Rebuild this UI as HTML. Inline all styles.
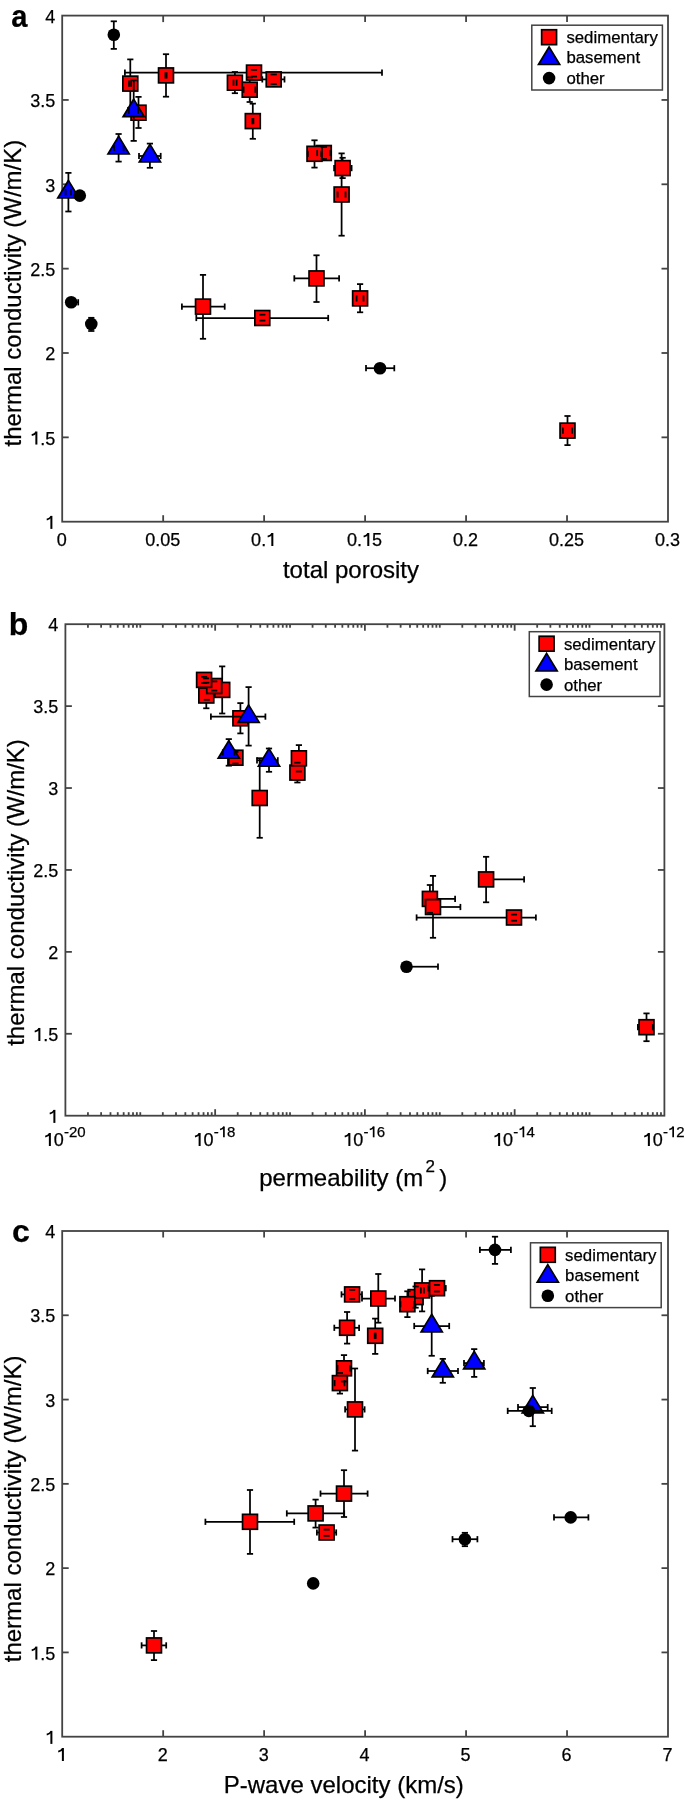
<!DOCTYPE html>
<html><head><meta charset="utf-8"><style>
html,body{margin:0;padding:0;background:#fff;}
svg{display:block;will-change:transform;}
text{font-family:"Liberation Sans",sans-serif;fill:#000;stroke:#000;stroke-width:0.25px;}
</style></head><body>
<svg width="685" height="1801" viewBox="0 0 685 1801">
<rect width="685" height="1801" fill="#fff"/>
<rect x="62.2" y="15.6" width="605.80" height="506.10" fill="none" stroke="#434343" stroke-width="1.8"/>
<line x1="163.17" y1="521.70" x2="163.17" y2="515.20" stroke="#434343" stroke-width="1.8"/>
<line x1="163.17" y1="15.60" x2="163.17" y2="22.10" stroke="#434343" stroke-width="1.8"/>
<line x1="264.13" y1="521.70" x2="264.13" y2="515.20" stroke="#434343" stroke-width="1.8"/>
<line x1="264.13" y1="15.60" x2="264.13" y2="22.10" stroke="#434343" stroke-width="1.8"/>
<line x1="365.10" y1="521.70" x2="365.10" y2="515.20" stroke="#434343" stroke-width="1.8"/>
<line x1="365.10" y1="15.60" x2="365.10" y2="22.10" stroke="#434343" stroke-width="1.8"/>
<line x1="466.07" y1="521.70" x2="466.07" y2="515.20" stroke="#434343" stroke-width="1.8"/>
<line x1="466.07" y1="15.60" x2="466.07" y2="22.10" stroke="#434343" stroke-width="1.8"/>
<line x1="567.03" y1="521.70" x2="567.03" y2="515.20" stroke="#434343" stroke-width="1.8"/>
<line x1="567.03" y1="15.60" x2="567.03" y2="22.10" stroke="#434343" stroke-width="1.8"/>
<line x1="62.20" y1="437.35" x2="68.70" y2="437.35" stroke="#434343" stroke-width="1.8"/>
<line x1="668.00" y1="437.35" x2="661.50" y2="437.35" stroke="#434343" stroke-width="1.8"/>
<line x1="62.20" y1="353.00" x2="68.70" y2="353.00" stroke="#434343" stroke-width="1.8"/>
<line x1="668.00" y1="353.00" x2="661.50" y2="353.00" stroke="#434343" stroke-width="1.8"/>
<line x1="62.20" y1="268.65" x2="68.70" y2="268.65" stroke="#434343" stroke-width="1.8"/>
<line x1="668.00" y1="268.65" x2="661.50" y2="268.65" stroke="#434343" stroke-width="1.8"/>
<line x1="62.20" y1="184.30" x2="68.70" y2="184.30" stroke="#434343" stroke-width="1.8"/>
<line x1="668.00" y1="184.30" x2="661.50" y2="184.30" stroke="#434343" stroke-width="1.8"/>
<line x1="62.20" y1="99.95" x2="68.70" y2="99.95" stroke="#434343" stroke-width="1.8"/>
<line x1="668.00" y1="99.95" x2="661.50" y2="99.95" stroke="#434343" stroke-width="1.8"/>
<text x="56.70" y="546.00" font-size="18" text-anchor="start" font-weight="normal" >0</text>
<text x="145.15" y="546.00" font-size="18" text-anchor="start" font-weight="normal" >0</text>
<text x="155.16" y="546.00" font-size="18" text-anchor="start" font-weight="normal" >.</text>
<text x="160.16" y="546.00" font-size="18" text-anchor="start" font-weight="normal" >0</text>
<text x="170.17" y="546.00" font-size="18" text-anchor="start" font-weight="normal" >5</text>
<text x="251.12" y="546.00" font-size="18" text-anchor="start" font-weight="normal" >0</text>
<text x="261.13" y="546.00" font-size="18" text-anchor="start" font-weight="normal" >.</text>
<path d="M271.32,532.97 L273.34,532.97 L273.34,546.00 L271.32,546.00 Z" fill="#000"/>
<path d="M272.35,533.51 C271.36,535.20 269.74,536.19 267.67,536.64" fill="none" stroke="#000" stroke-width="1.80"/>
<text x="347.09" y="546.00" font-size="18" text-anchor="start" font-weight="normal" >0</text>
<text x="357.09" y="546.00" font-size="18" text-anchor="start" font-weight="normal" >.</text>
<path d="M367.28,532.97 L369.30,532.97 L369.30,546.00 L367.28,546.00 Z" fill="#000"/>
<path d="M368.31,533.51 C367.32,535.20 365.70,536.19 363.63,536.64" fill="none" stroke="#000" stroke-width="1.80"/>
<text x="372.11" y="546.00" font-size="18" text-anchor="start" font-weight="normal" >5</text>
<text x="453.06" y="546.00" font-size="18" text-anchor="start" font-weight="normal" >0</text>
<text x="463.06" y="546.00" font-size="18" text-anchor="start" font-weight="normal" >.</text>
<text x="468.07" y="546.00" font-size="18" text-anchor="start" font-weight="normal" >2</text>
<text x="549.02" y="546.00" font-size="18" text-anchor="start" font-weight="normal" >0</text>
<text x="559.03" y="546.00" font-size="18" text-anchor="start" font-weight="normal" >.</text>
<text x="564.03" y="546.00" font-size="18" text-anchor="start" font-weight="normal" >2</text>
<text x="574.04" y="546.00" font-size="18" text-anchor="start" font-weight="normal" >5</text>
<text x="654.99" y="546.00" font-size="18" text-anchor="start" font-weight="normal" >0</text>
<text x="665.00" y="546.00" font-size="18" text-anchor="start" font-weight="normal" >.</text>
<text x="670.00" y="546.00" font-size="18" text-anchor="start" font-weight="normal" >3</text>
<path d="M50.38,515.87 L52.39,515.87 L52.39,528.90 L50.38,528.90 Z" fill="#000"/>
<path d="M51.40,516.41 C50.41,518.10 48.79,519.09 46.72,519.54" fill="none" stroke="#000" stroke-width="1.80"/>
<path d="M35.36,431.52 L37.38,431.52 L37.38,444.55 L35.36,444.55 Z" fill="#000"/>
<path d="M36.39,432.06 C35.40,433.75 33.78,434.74 31.71,435.19" fill="none" stroke="#000" stroke-width="1.80"/>
<text x="40.19" y="444.55" font-size="18" text-anchor="start" font-weight="normal" >.</text>
<text x="45.19" y="444.55" font-size="18" text-anchor="start" font-weight="normal" >5</text>
<text x="45.19" y="360.20" font-size="18" text-anchor="start" font-weight="normal" >2</text>
<text x="30.18" y="275.85" font-size="18" text-anchor="start" font-weight="normal" >2</text>
<text x="40.19" y="275.85" font-size="18" text-anchor="start" font-weight="normal" >.</text>
<text x="45.19" y="275.85" font-size="18" text-anchor="start" font-weight="normal" >5</text>
<text x="45.19" y="191.50" font-size="18" text-anchor="start" font-weight="normal" >3</text>
<text x="30.18" y="107.15" font-size="18" text-anchor="start" font-weight="normal" >3</text>
<text x="40.19" y="107.15" font-size="18" text-anchor="start" font-weight="normal" >.</text>
<text x="45.19" y="107.15" font-size="18" text-anchor="start" font-weight="normal" >5</text>
<text x="45.19" y="22.80" font-size="18" text-anchor="start" font-weight="normal" >4</text>
<text x="351.00" y="577.60" font-size="24" text-anchor="middle" font-weight="normal" >total porosity</text>
<text x="0.00" y="0.00" font-size="24" text-anchor="middle" font-weight="normal" transform="translate(20.7,293.1) rotate(-90)">thermal conductivity (W/m/K)</text>
<text x="0.00" y="0.00" font-size="32" text-anchor="start" font-weight="bold" transform="translate(11.3,27.2) scale(0.91,1)">a</text>
<line x1="130.30" y1="59.40" x2="130.30" y2="107.80" stroke="#000" stroke-width="1.75"/>
<line x1="129.00" y1="83.60" x2="131.10" y2="83.60" stroke="#000" stroke-width="1.75"/>
<line x1="166.00" y1="54.20" x2="166.00" y2="96.70" stroke="#000" stroke-width="1.75"/>
<line x1="165.40" y1="75.40" x2="166.60" y2="75.40" stroke="#000" stroke-width="1.75"/>
<line x1="138.50" y1="96.90" x2="138.50" y2="128.00" stroke="#000" stroke-width="1.75"/>
<line x1="234.90" y1="72.00" x2="234.90" y2="93.20" stroke="#000" stroke-width="1.75"/>
<line x1="233.50" y1="82.70" x2="236.60" y2="82.70" stroke="#000" stroke-width="1.75"/>
<line x1="254.00" y1="69.90" x2="254.00" y2="76.60" stroke="#000" stroke-width="1.75"/>
<line x1="124.90" y1="72.60" x2="382.00" y2="72.60" stroke="#000" stroke-width="1.75"/>
<line x1="249.70" y1="77.40" x2="249.70" y2="102.00" stroke="#000" stroke-width="1.75"/>
<line x1="243.60" y1="89.70" x2="255.30" y2="89.70" stroke="#000" stroke-width="1.75"/>
<line x1="273.70" y1="74.50" x2="273.70" y2="84.10" stroke="#000" stroke-width="1.75"/>
<line x1="262.30" y1="79.40" x2="284.50" y2="79.40" stroke="#000" stroke-width="1.75"/>
<line x1="252.80" y1="103.70" x2="252.80" y2="138.80" stroke="#000" stroke-width="1.75"/>
<line x1="252.20" y1="121.10" x2="253.40" y2="121.10" stroke="#000" stroke-width="1.75"/>
<line x1="323.80" y1="147.00" x2="323.80" y2="159.00" stroke="#000" stroke-width="1.75"/>
<line x1="317.20" y1="153.00" x2="330.40" y2="153.00" stroke="#000" stroke-width="1.75"/>
<line x1="314.50" y1="140.30" x2="314.50" y2="167.60" stroke="#000" stroke-width="1.75"/>
<line x1="307.80" y1="153.80" x2="321.20" y2="153.80" stroke="#000" stroke-width="1.75"/>
<line x1="342.60" y1="157.80" x2="342.60" y2="178.10" stroke="#000" stroke-width="1.75"/>
<line x1="334.10" y1="168.10" x2="351.60" y2="168.10" stroke="#000" stroke-width="1.75"/>
<line x1="341.60" y1="153.40" x2="341.60" y2="235.70" stroke="#000" stroke-width="1.75"/>
<line x1="337.60" y1="194.50" x2="345.50" y2="194.50" stroke="#000" stroke-width="1.75"/>
<line x1="316.50" y1="255.30" x2="316.50" y2="302.00" stroke="#000" stroke-width="1.75"/>
<line x1="294.30" y1="278.40" x2="339.10" y2="278.40" stroke="#000" stroke-width="1.75"/>
<line x1="360.10" y1="284.10" x2="360.10" y2="312.30" stroke="#000" stroke-width="1.75"/>
<line x1="356.60" y1="298.40" x2="363.50" y2="298.40" stroke="#000" stroke-width="1.75"/>
<line x1="203.00" y1="274.90" x2="203.00" y2="338.80" stroke="#000" stroke-width="1.75"/>
<line x1="181.90" y1="306.60" x2="224.70" y2="306.60" stroke="#000" stroke-width="1.75"/>
<line x1="262.30" y1="314.70" x2="262.30" y2="320.60" stroke="#000" stroke-width="1.75"/>
<line x1="196.30" y1="318.00" x2="328.20" y2="318.00" stroke="#000" stroke-width="1.75"/>
<line x1="567.50" y1="416.00" x2="567.50" y2="445.10" stroke="#000" stroke-width="1.75"/>
<line x1="563.00" y1="430.60" x2="572.20" y2="430.60" stroke="#000" stroke-width="1.75"/>
<rect x="122.85" y="76.15" width="14.90" height="14.90" fill="#ff0000" stroke="#000" stroke-width="1.7"/>
<rect x="158.55" y="67.95" width="14.90" height="14.90" fill="#ff0000" stroke="#000" stroke-width="1.7"/>
<rect x="131.05" y="105.25" width="14.90" height="14.90" fill="#ff0000" stroke="#000" stroke-width="1.7"/>
<rect x="227.45" y="75.25" width="14.90" height="14.90" fill="#ff0000" stroke="#000" stroke-width="1.7"/>
<rect x="246.55" y="65.15" width="14.90" height="14.90" fill="#ff0000" stroke="#000" stroke-width="1.7"/>
<rect x="242.25" y="82.25" width="14.90" height="14.90" fill="#ff0000" stroke="#000" stroke-width="1.7"/>
<rect x="266.25" y="71.95" width="14.90" height="14.90" fill="#ff0000" stroke="#000" stroke-width="1.7"/>
<rect x="245.35" y="113.65" width="14.90" height="14.90" fill="#ff0000" stroke="#000" stroke-width="1.7"/>
<rect x="316.35" y="145.55" width="14.90" height="14.90" fill="#ff0000" stroke="#000" stroke-width="1.7"/>
<rect x="307.05" y="146.35" width="14.90" height="14.90" fill="#ff0000" stroke="#000" stroke-width="1.7"/>
<rect x="335.15" y="160.65" width="14.90" height="14.90" fill="#ff0000" stroke="#000" stroke-width="1.7"/>
<rect x="334.15" y="187.05" width="14.90" height="14.90" fill="#ff0000" stroke="#000" stroke-width="1.7"/>
<rect x="309.05" y="270.95" width="14.90" height="14.90" fill="#ff0000" stroke="#000" stroke-width="1.7"/>
<rect x="352.65" y="290.95" width="14.90" height="14.90" fill="#ff0000" stroke="#000" stroke-width="1.7"/>
<rect x="195.55" y="299.15" width="14.90" height="14.90" fill="#ff0000" stroke="#000" stroke-width="1.7"/>
<rect x="254.85" y="310.55" width="14.90" height="14.90" fill="#ff0000" stroke="#000" stroke-width="1.7"/>
<rect x="560.05" y="423.15" width="14.90" height="14.90" fill="#ff0000" stroke="#000" stroke-width="1.7"/>
<line x1="127.20" y1="59.40" x2="133.40" y2="59.40" stroke="#000" stroke-width="1.75"/>
<line x1="127.20" y1="107.80" x2="133.40" y2="107.80" stroke="#000" stroke-width="1.75"/>
<line x1="129.00" y1="80.50" x2="129.00" y2="86.70" stroke="#000" stroke-width="1.75"/>
<line x1="131.10" y1="80.50" x2="131.10" y2="86.70" stroke="#000" stroke-width="1.75"/>
<line x1="162.90" y1="54.20" x2="169.10" y2="54.20" stroke="#000" stroke-width="1.75"/>
<line x1="162.90" y1="96.70" x2="169.10" y2="96.70" stroke="#000" stroke-width="1.75"/>
<line x1="165.40" y1="72.30" x2="165.40" y2="78.50" stroke="#000" stroke-width="1.75"/>
<line x1="166.60" y1="72.30" x2="166.60" y2="78.50" stroke="#000" stroke-width="1.75"/>
<line x1="135.40" y1="96.90" x2="141.60" y2="96.90" stroke="#000" stroke-width="1.75"/>
<line x1="135.40" y1="128.00" x2="141.60" y2="128.00" stroke="#000" stroke-width="1.75"/>
<line x1="231.80" y1="72.00" x2="238.00" y2="72.00" stroke="#000" stroke-width="1.75"/>
<line x1="231.80" y1="93.20" x2="238.00" y2="93.20" stroke="#000" stroke-width="1.75"/>
<line x1="233.50" y1="79.60" x2="233.50" y2="85.80" stroke="#000" stroke-width="1.75"/>
<line x1="236.60" y1="79.60" x2="236.60" y2="85.80" stroke="#000" stroke-width="1.75"/>
<line x1="250.90" y1="69.90" x2="257.10" y2="69.90" stroke="#000" stroke-width="1.75"/>
<line x1="250.90" y1="76.60" x2="257.10" y2="76.60" stroke="#000" stroke-width="1.75"/>
<line x1="124.90" y1="69.50" x2="124.90" y2="75.70" stroke="#000" stroke-width="1.75"/>
<line x1="382.00" y1="69.50" x2="382.00" y2="75.70" stroke="#000" stroke-width="1.75"/>
<line x1="246.60" y1="77.40" x2="252.80" y2="77.40" stroke="#000" stroke-width="1.75"/>
<line x1="246.60" y1="102.00" x2="252.80" y2="102.00" stroke="#000" stroke-width="1.75"/>
<line x1="243.60" y1="86.60" x2="243.60" y2="92.80" stroke="#000" stroke-width="1.75"/>
<line x1="255.30" y1="86.60" x2="255.30" y2="92.80" stroke="#000" stroke-width="1.75"/>
<line x1="270.60" y1="74.50" x2="276.80" y2="74.50" stroke="#000" stroke-width="1.75"/>
<line x1="270.60" y1="84.10" x2="276.80" y2="84.10" stroke="#000" stroke-width="1.75"/>
<line x1="262.30" y1="76.30" x2="262.30" y2="82.50" stroke="#000" stroke-width="1.75"/>
<line x1="284.50" y1="76.30" x2="284.50" y2="82.50" stroke="#000" stroke-width="1.75"/>
<line x1="249.70" y1="103.70" x2="255.90" y2="103.70" stroke="#000" stroke-width="1.75"/>
<line x1="249.70" y1="138.80" x2="255.90" y2="138.80" stroke="#000" stroke-width="1.75"/>
<line x1="252.20" y1="118.00" x2="252.20" y2="124.20" stroke="#000" stroke-width="1.75"/>
<line x1="253.40" y1="118.00" x2="253.40" y2="124.20" stroke="#000" stroke-width="1.75"/>
<line x1="320.70" y1="147.00" x2="326.90" y2="147.00" stroke="#000" stroke-width="1.75"/>
<line x1="320.70" y1="159.00" x2="326.90" y2="159.00" stroke="#000" stroke-width="1.75"/>
<line x1="317.20" y1="149.90" x2="317.20" y2="156.10" stroke="#000" stroke-width="1.75"/>
<line x1="330.40" y1="149.90" x2="330.40" y2="156.10" stroke="#000" stroke-width="1.75"/>
<line x1="311.40" y1="140.30" x2="317.60" y2="140.30" stroke="#000" stroke-width="1.75"/>
<line x1="311.40" y1="167.60" x2="317.60" y2="167.60" stroke="#000" stroke-width="1.75"/>
<line x1="307.80" y1="150.70" x2="307.80" y2="156.90" stroke="#000" stroke-width="1.75"/>
<line x1="321.20" y1="150.70" x2="321.20" y2="156.90" stroke="#000" stroke-width="1.75"/>
<line x1="339.50" y1="157.80" x2="345.70" y2="157.80" stroke="#000" stroke-width="1.75"/>
<line x1="339.50" y1="178.10" x2="345.70" y2="178.10" stroke="#000" stroke-width="1.75"/>
<line x1="334.10" y1="165.00" x2="334.10" y2="171.20" stroke="#000" stroke-width="1.75"/>
<line x1="351.60" y1="165.00" x2="351.60" y2="171.20" stroke="#000" stroke-width="1.75"/>
<line x1="338.50" y1="153.40" x2="344.70" y2="153.40" stroke="#000" stroke-width="1.75"/>
<line x1="338.50" y1="235.70" x2="344.70" y2="235.70" stroke="#000" stroke-width="1.75"/>
<line x1="337.60" y1="191.40" x2="337.60" y2="197.60" stroke="#000" stroke-width="1.75"/>
<line x1="345.50" y1="191.40" x2="345.50" y2="197.60" stroke="#000" stroke-width="1.75"/>
<line x1="313.40" y1="255.30" x2="319.60" y2="255.30" stroke="#000" stroke-width="1.75"/>
<line x1="313.40" y1="302.00" x2="319.60" y2="302.00" stroke="#000" stroke-width="1.75"/>
<line x1="294.30" y1="275.30" x2="294.30" y2="281.50" stroke="#000" stroke-width="1.75"/>
<line x1="339.10" y1="275.30" x2="339.10" y2="281.50" stroke="#000" stroke-width="1.75"/>
<line x1="357.00" y1="284.10" x2="363.20" y2="284.10" stroke="#000" stroke-width="1.75"/>
<line x1="357.00" y1="312.30" x2="363.20" y2="312.30" stroke="#000" stroke-width="1.75"/>
<line x1="356.60" y1="295.30" x2="356.60" y2="301.50" stroke="#000" stroke-width="1.75"/>
<line x1="363.50" y1="295.30" x2="363.50" y2="301.50" stroke="#000" stroke-width="1.75"/>
<line x1="199.90" y1="274.90" x2="206.10" y2="274.90" stroke="#000" stroke-width="1.75"/>
<line x1="199.90" y1="338.80" x2="206.10" y2="338.80" stroke="#000" stroke-width="1.75"/>
<line x1="181.90" y1="303.50" x2="181.90" y2="309.70" stroke="#000" stroke-width="1.75"/>
<line x1="224.70" y1="303.50" x2="224.70" y2="309.70" stroke="#000" stroke-width="1.75"/>
<line x1="259.20" y1="314.70" x2="265.40" y2="314.70" stroke="#000" stroke-width="1.75"/>
<line x1="259.20" y1="320.60" x2="265.40" y2="320.60" stroke="#000" stroke-width="1.75"/>
<line x1="196.30" y1="314.90" x2="196.30" y2="321.10" stroke="#000" stroke-width="1.75"/>
<line x1="328.20" y1="314.90" x2="328.20" y2="321.10" stroke="#000" stroke-width="1.75"/>
<line x1="564.40" y1="416.00" x2="570.60" y2="416.00" stroke="#000" stroke-width="1.75"/>
<line x1="564.40" y1="445.10" x2="570.60" y2="445.10" stroke="#000" stroke-width="1.75"/>
<line x1="563.00" y1="427.50" x2="563.00" y2="433.70" stroke="#000" stroke-width="1.75"/>
<line x1="572.20" y1="427.50" x2="572.20" y2="433.70" stroke="#000" stroke-width="1.75"/>
<line x1="133.70" y1="80.40" x2="133.70" y2="140.90" stroke="#000" stroke-width="1.75"/>
<line x1="129.00" y1="110.90" x2="138.10" y2="110.90" stroke="#000" stroke-width="1.75"/>
<line x1="118.60" y1="134.00" x2="118.60" y2="161.60" stroke="#000" stroke-width="1.75"/>
<line x1="114.00" y1="148.00" x2="123.60" y2="148.00" stroke="#000" stroke-width="1.75"/>
<line x1="149.90" y1="143.60" x2="149.90" y2="167.80" stroke="#000" stroke-width="1.75"/>
<line x1="139.00" y1="156.00" x2="160.70" y2="156.00" stroke="#000" stroke-width="1.75"/>
<line x1="68.40" y1="172.90" x2="68.40" y2="211.50" stroke="#000" stroke-width="1.75"/>
<line x1="65.60" y1="192.20" x2="71.00" y2="192.20" stroke="#000" stroke-width="1.75"/>
<path d="M133.70,99.21 L144.29,116.72 L123.11,116.72 Z" fill="#0000ff" stroke="#000" stroke-width="1.7" stroke-linejoin="miter"/>
<path d="M118.60,136.31 L129.19,153.82 L108.01,153.82 Z" fill="#0000ff" stroke="#000" stroke-width="1.7" stroke-linejoin="miter"/>
<path d="M149.90,144.31 L160.49,161.82 L139.31,161.82 Z" fill="#0000ff" stroke="#000" stroke-width="1.7" stroke-linejoin="miter"/>
<path d="M68.40,180.51 L78.99,198.02 L57.81,198.02 Z" fill="#0000ff" stroke="#000" stroke-width="1.7" stroke-linejoin="miter"/>
<line x1="130.60" y1="80.40" x2="136.80" y2="80.40" stroke="#000" stroke-width="1.75"/>
<line x1="130.60" y1="140.90" x2="136.80" y2="140.90" stroke="#000" stroke-width="1.75"/>
<line x1="129.00" y1="107.80" x2="129.00" y2="114.00" stroke="#000" stroke-width="1.75"/>
<line x1="138.10" y1="107.80" x2="138.10" y2="114.00" stroke="#000" stroke-width="1.75"/>
<line x1="115.50" y1="134.00" x2="121.70" y2="134.00" stroke="#000" stroke-width="1.75"/>
<line x1="115.50" y1="161.60" x2="121.70" y2="161.60" stroke="#000" stroke-width="1.75"/>
<line x1="114.00" y1="144.90" x2="114.00" y2="151.10" stroke="#000" stroke-width="1.75"/>
<line x1="123.60" y1="144.90" x2="123.60" y2="151.10" stroke="#000" stroke-width="1.75"/>
<line x1="146.80" y1="143.60" x2="153.00" y2="143.60" stroke="#000" stroke-width="1.75"/>
<line x1="146.80" y1="167.80" x2="153.00" y2="167.80" stroke="#000" stroke-width="1.75"/>
<line x1="139.00" y1="152.90" x2="139.00" y2="159.10" stroke="#000" stroke-width="1.75"/>
<line x1="160.70" y1="152.90" x2="160.70" y2="159.10" stroke="#000" stroke-width="1.75"/>
<line x1="65.30" y1="172.90" x2="71.50" y2="172.90" stroke="#000" stroke-width="1.75"/>
<line x1="65.30" y1="211.50" x2="71.50" y2="211.50" stroke="#000" stroke-width="1.75"/>
<line x1="65.60" y1="189.10" x2="65.60" y2="195.30" stroke="#000" stroke-width="1.75"/>
<line x1="71.00" y1="189.10" x2="71.00" y2="195.30" stroke="#000" stroke-width="1.75"/>
<line x1="113.80" y1="21.30" x2="113.80" y2="48.90" stroke="#000" stroke-width="1.75"/>
<line x1="71.20" y1="302.30" x2="78.20" y2="302.30" stroke="#000" stroke-width="1.75"/>
<line x1="91.30" y1="317.80" x2="91.30" y2="331.00" stroke="#000" stroke-width="1.75"/>
<line x1="366.00" y1="368.20" x2="394.30" y2="368.20" stroke="#000" stroke-width="1.75"/>
<circle cx="113.80" cy="34.70" r="6.30" fill="#000"/>
<circle cx="79.80" cy="195.60" r="6.30" fill="#000"/>
<circle cx="71.20" cy="302.30" r="6.30" fill="#000"/>
<circle cx="91.30" cy="324.00" r="6.30" fill="#000"/>
<circle cx="380.00" cy="368.20" r="6.30" fill="#000"/>
<line x1="110.70" y1="21.30" x2="116.90" y2="21.30" stroke="#000" stroke-width="1.75"/>
<line x1="110.70" y1="48.90" x2="116.90" y2="48.90" stroke="#000" stroke-width="1.75"/>
<line x1="78.20" y1="299.20" x2="78.20" y2="305.40" stroke="#000" stroke-width="1.75"/>
<line x1="88.20" y1="317.80" x2="94.40" y2="317.80" stroke="#000" stroke-width="1.75"/>
<line x1="88.20" y1="331.00" x2="94.40" y2="331.00" stroke="#000" stroke-width="1.75"/>
<line x1="366.00" y1="365.10" x2="366.00" y2="371.30" stroke="#000" stroke-width="1.75"/>
<line x1="394.30" y1="365.10" x2="394.30" y2="371.30" stroke="#000" stroke-width="1.75"/>
<rect x="531.8" y="25.2" width="130.60" height="64.80" fill="#fff" stroke="#434343" stroke-width="1.5"/>
<rect x="541.65" y="29.75" width="14.90" height="14.90" fill="#ff0000" stroke="#000" stroke-width="1.7"/>
<path d="M549.10,47.01 L559.69,64.52 L538.51,64.52 Z" fill="#0000ff" stroke="#000" stroke-width="1.7" stroke-linejoin="miter"/>
<circle cx="549.10" cy="78.10" r="6.30" fill="#000"/>
<text x="566.40" y="43.10" font-size="16.8" text-anchor="start" font-weight="normal" >sedimentary</text>
<text x="566.40" y="63.20" font-size="16.8" text-anchor="start" font-weight="normal" >basement</text>
<text x="566.40" y="84.00" font-size="16.8" text-anchor="start" font-weight="normal" >other</text>
<rect x="65.4" y="624.2" width="599.00" height="491.50" fill="none" stroke="#434343" stroke-width="1.8"/>
<line x1="87.94" y1="1115.70" x2="87.94" y2="1112.20" stroke="#434343" stroke-width="1.8"/>
<line x1="87.94" y1="624.20" x2="87.94" y2="627.70" stroke="#434343" stroke-width="1.8"/>
<line x1="101.12" y1="1115.70" x2="101.12" y2="1112.20" stroke="#434343" stroke-width="1.8"/>
<line x1="101.12" y1="624.20" x2="101.12" y2="627.70" stroke="#434343" stroke-width="1.8"/>
<line x1="110.48" y1="1115.70" x2="110.48" y2="1112.20" stroke="#434343" stroke-width="1.8"/>
<line x1="110.48" y1="624.20" x2="110.48" y2="627.70" stroke="#434343" stroke-width="1.8"/>
<line x1="117.74" y1="1115.70" x2="117.74" y2="1112.20" stroke="#434343" stroke-width="1.8"/>
<line x1="117.74" y1="624.20" x2="117.74" y2="627.70" stroke="#434343" stroke-width="1.8"/>
<line x1="123.66" y1="1115.70" x2="123.66" y2="1112.20" stroke="#434343" stroke-width="1.8"/>
<line x1="123.66" y1="624.20" x2="123.66" y2="627.70" stroke="#434343" stroke-width="1.8"/>
<line x1="128.68" y1="1115.70" x2="128.68" y2="1112.20" stroke="#434343" stroke-width="1.8"/>
<line x1="128.68" y1="624.20" x2="128.68" y2="627.70" stroke="#434343" stroke-width="1.8"/>
<line x1="133.02" y1="1115.70" x2="133.02" y2="1112.20" stroke="#434343" stroke-width="1.8"/>
<line x1="133.02" y1="624.20" x2="133.02" y2="627.70" stroke="#434343" stroke-width="1.8"/>
<line x1="136.85" y1="1115.70" x2="136.85" y2="1112.20" stroke="#434343" stroke-width="1.8"/>
<line x1="136.85" y1="624.20" x2="136.85" y2="627.70" stroke="#434343" stroke-width="1.8"/>
<line x1="140.28" y1="1115.70" x2="140.28" y2="1112.20" stroke="#434343" stroke-width="1.8"/>
<line x1="140.28" y1="624.20" x2="140.28" y2="627.70" stroke="#434343" stroke-width="1.8"/>
<line x1="162.81" y1="1115.70" x2="162.81" y2="1112.20" stroke="#434343" stroke-width="1.8"/>
<line x1="162.81" y1="624.20" x2="162.81" y2="627.70" stroke="#434343" stroke-width="1.8"/>
<line x1="176.00" y1="1115.70" x2="176.00" y2="1112.20" stroke="#434343" stroke-width="1.8"/>
<line x1="176.00" y1="624.20" x2="176.00" y2="627.70" stroke="#434343" stroke-width="1.8"/>
<line x1="185.35" y1="1115.70" x2="185.35" y2="1112.20" stroke="#434343" stroke-width="1.8"/>
<line x1="185.35" y1="624.20" x2="185.35" y2="627.70" stroke="#434343" stroke-width="1.8"/>
<line x1="192.61" y1="1115.70" x2="192.61" y2="1112.20" stroke="#434343" stroke-width="1.8"/>
<line x1="192.61" y1="624.20" x2="192.61" y2="627.70" stroke="#434343" stroke-width="1.8"/>
<line x1="198.54" y1="1115.70" x2="198.54" y2="1112.20" stroke="#434343" stroke-width="1.8"/>
<line x1="198.54" y1="624.20" x2="198.54" y2="627.70" stroke="#434343" stroke-width="1.8"/>
<line x1="203.55" y1="1115.70" x2="203.55" y2="1112.20" stroke="#434343" stroke-width="1.8"/>
<line x1="203.55" y1="624.20" x2="203.55" y2="627.70" stroke="#434343" stroke-width="1.8"/>
<line x1="207.89" y1="1115.70" x2="207.89" y2="1112.20" stroke="#434343" stroke-width="1.8"/>
<line x1="207.89" y1="624.20" x2="207.89" y2="627.70" stroke="#434343" stroke-width="1.8"/>
<line x1="211.72" y1="1115.70" x2="211.72" y2="1112.20" stroke="#434343" stroke-width="1.8"/>
<line x1="211.72" y1="624.20" x2="211.72" y2="627.70" stroke="#434343" stroke-width="1.8"/>
<line x1="237.69" y1="1115.70" x2="237.69" y2="1112.20" stroke="#434343" stroke-width="1.8"/>
<line x1="237.69" y1="624.20" x2="237.69" y2="627.70" stroke="#434343" stroke-width="1.8"/>
<line x1="250.87" y1="1115.70" x2="250.87" y2="1112.20" stroke="#434343" stroke-width="1.8"/>
<line x1="250.87" y1="624.20" x2="250.87" y2="627.70" stroke="#434343" stroke-width="1.8"/>
<line x1="260.23" y1="1115.70" x2="260.23" y2="1112.20" stroke="#434343" stroke-width="1.8"/>
<line x1="260.23" y1="624.20" x2="260.23" y2="627.70" stroke="#434343" stroke-width="1.8"/>
<line x1="267.49" y1="1115.70" x2="267.49" y2="1112.20" stroke="#434343" stroke-width="1.8"/>
<line x1="267.49" y1="624.20" x2="267.49" y2="627.70" stroke="#434343" stroke-width="1.8"/>
<line x1="273.41" y1="1115.70" x2="273.41" y2="1112.20" stroke="#434343" stroke-width="1.8"/>
<line x1="273.41" y1="624.20" x2="273.41" y2="627.70" stroke="#434343" stroke-width="1.8"/>
<line x1="278.43" y1="1115.70" x2="278.43" y2="1112.20" stroke="#434343" stroke-width="1.8"/>
<line x1="278.43" y1="624.20" x2="278.43" y2="627.70" stroke="#434343" stroke-width="1.8"/>
<line x1="282.77" y1="1115.70" x2="282.77" y2="1112.20" stroke="#434343" stroke-width="1.8"/>
<line x1="282.77" y1="624.20" x2="282.77" y2="627.70" stroke="#434343" stroke-width="1.8"/>
<line x1="286.60" y1="1115.70" x2="286.60" y2="1112.20" stroke="#434343" stroke-width="1.8"/>
<line x1="286.60" y1="624.20" x2="286.60" y2="627.70" stroke="#434343" stroke-width="1.8"/>
<line x1="290.02" y1="1115.70" x2="290.02" y2="1112.20" stroke="#434343" stroke-width="1.8"/>
<line x1="290.02" y1="624.20" x2="290.02" y2="627.70" stroke="#434343" stroke-width="1.8"/>
<line x1="312.56" y1="1115.70" x2="312.56" y2="1112.20" stroke="#434343" stroke-width="1.8"/>
<line x1="312.56" y1="624.20" x2="312.56" y2="627.70" stroke="#434343" stroke-width="1.8"/>
<line x1="325.75" y1="1115.70" x2="325.75" y2="1112.20" stroke="#434343" stroke-width="1.8"/>
<line x1="325.75" y1="624.20" x2="325.75" y2="627.70" stroke="#434343" stroke-width="1.8"/>
<line x1="335.10" y1="1115.70" x2="335.10" y2="1112.20" stroke="#434343" stroke-width="1.8"/>
<line x1="335.10" y1="624.20" x2="335.10" y2="627.70" stroke="#434343" stroke-width="1.8"/>
<line x1="342.36" y1="1115.70" x2="342.36" y2="1112.20" stroke="#434343" stroke-width="1.8"/>
<line x1="342.36" y1="624.20" x2="342.36" y2="627.70" stroke="#434343" stroke-width="1.8"/>
<line x1="348.29" y1="1115.70" x2="348.29" y2="1112.20" stroke="#434343" stroke-width="1.8"/>
<line x1="348.29" y1="624.20" x2="348.29" y2="627.70" stroke="#434343" stroke-width="1.8"/>
<line x1="353.30" y1="1115.70" x2="353.30" y2="1112.20" stroke="#434343" stroke-width="1.8"/>
<line x1="353.30" y1="624.20" x2="353.30" y2="627.70" stroke="#434343" stroke-width="1.8"/>
<line x1="357.64" y1="1115.70" x2="357.64" y2="1112.20" stroke="#434343" stroke-width="1.8"/>
<line x1="357.64" y1="624.20" x2="357.64" y2="627.70" stroke="#434343" stroke-width="1.8"/>
<line x1="361.47" y1="1115.70" x2="361.47" y2="1112.20" stroke="#434343" stroke-width="1.8"/>
<line x1="361.47" y1="624.20" x2="361.47" y2="627.70" stroke="#434343" stroke-width="1.8"/>
<line x1="387.44" y1="1115.70" x2="387.44" y2="1112.20" stroke="#434343" stroke-width="1.8"/>
<line x1="387.44" y1="624.20" x2="387.44" y2="627.70" stroke="#434343" stroke-width="1.8"/>
<line x1="400.62" y1="1115.70" x2="400.62" y2="1112.20" stroke="#434343" stroke-width="1.8"/>
<line x1="400.62" y1="624.20" x2="400.62" y2="627.70" stroke="#434343" stroke-width="1.8"/>
<line x1="409.98" y1="1115.70" x2="409.98" y2="1112.20" stroke="#434343" stroke-width="1.8"/>
<line x1="409.98" y1="624.20" x2="409.98" y2="627.70" stroke="#434343" stroke-width="1.8"/>
<line x1="417.24" y1="1115.70" x2="417.24" y2="1112.20" stroke="#434343" stroke-width="1.8"/>
<line x1="417.24" y1="624.20" x2="417.24" y2="627.70" stroke="#434343" stroke-width="1.8"/>
<line x1="423.16" y1="1115.70" x2="423.16" y2="1112.20" stroke="#434343" stroke-width="1.8"/>
<line x1="423.16" y1="624.20" x2="423.16" y2="627.70" stroke="#434343" stroke-width="1.8"/>
<line x1="428.18" y1="1115.70" x2="428.18" y2="1112.20" stroke="#434343" stroke-width="1.8"/>
<line x1="428.18" y1="624.20" x2="428.18" y2="627.70" stroke="#434343" stroke-width="1.8"/>
<line x1="432.52" y1="1115.70" x2="432.52" y2="1112.20" stroke="#434343" stroke-width="1.8"/>
<line x1="432.52" y1="624.20" x2="432.52" y2="627.70" stroke="#434343" stroke-width="1.8"/>
<line x1="436.35" y1="1115.70" x2="436.35" y2="1112.20" stroke="#434343" stroke-width="1.8"/>
<line x1="436.35" y1="624.20" x2="436.35" y2="627.70" stroke="#434343" stroke-width="1.8"/>
<line x1="439.77" y1="1115.70" x2="439.77" y2="1112.20" stroke="#434343" stroke-width="1.8"/>
<line x1="439.77" y1="624.20" x2="439.77" y2="627.70" stroke="#434343" stroke-width="1.8"/>
<line x1="462.31" y1="1115.70" x2="462.31" y2="1112.20" stroke="#434343" stroke-width="1.8"/>
<line x1="462.31" y1="624.20" x2="462.31" y2="627.70" stroke="#434343" stroke-width="1.8"/>
<line x1="475.50" y1="1115.70" x2="475.50" y2="1112.20" stroke="#434343" stroke-width="1.8"/>
<line x1="475.50" y1="624.20" x2="475.50" y2="627.70" stroke="#434343" stroke-width="1.8"/>
<line x1="484.85" y1="1115.70" x2="484.85" y2="1112.20" stroke="#434343" stroke-width="1.8"/>
<line x1="484.85" y1="624.20" x2="484.85" y2="627.70" stroke="#434343" stroke-width="1.8"/>
<line x1="492.11" y1="1115.70" x2="492.11" y2="1112.20" stroke="#434343" stroke-width="1.8"/>
<line x1="492.11" y1="624.20" x2="492.11" y2="627.70" stroke="#434343" stroke-width="1.8"/>
<line x1="498.04" y1="1115.70" x2="498.04" y2="1112.20" stroke="#434343" stroke-width="1.8"/>
<line x1="498.04" y1="624.20" x2="498.04" y2="627.70" stroke="#434343" stroke-width="1.8"/>
<line x1="503.05" y1="1115.70" x2="503.05" y2="1112.20" stroke="#434343" stroke-width="1.8"/>
<line x1="503.05" y1="624.20" x2="503.05" y2="627.70" stroke="#434343" stroke-width="1.8"/>
<line x1="507.39" y1="1115.70" x2="507.39" y2="1112.20" stroke="#434343" stroke-width="1.8"/>
<line x1="507.39" y1="624.20" x2="507.39" y2="627.70" stroke="#434343" stroke-width="1.8"/>
<line x1="511.22" y1="1115.70" x2="511.22" y2="1112.20" stroke="#434343" stroke-width="1.8"/>
<line x1="511.22" y1="624.20" x2="511.22" y2="627.70" stroke="#434343" stroke-width="1.8"/>
<line x1="537.19" y1="1115.70" x2="537.19" y2="1112.20" stroke="#434343" stroke-width="1.8"/>
<line x1="537.19" y1="624.20" x2="537.19" y2="627.70" stroke="#434343" stroke-width="1.8"/>
<line x1="550.37" y1="1115.70" x2="550.37" y2="1112.20" stroke="#434343" stroke-width="1.8"/>
<line x1="550.37" y1="624.20" x2="550.37" y2="627.70" stroke="#434343" stroke-width="1.8"/>
<line x1="559.73" y1="1115.70" x2="559.73" y2="1112.20" stroke="#434343" stroke-width="1.8"/>
<line x1="559.73" y1="624.20" x2="559.73" y2="627.70" stroke="#434343" stroke-width="1.8"/>
<line x1="566.99" y1="1115.70" x2="566.99" y2="1112.20" stroke="#434343" stroke-width="1.8"/>
<line x1="566.99" y1="624.20" x2="566.99" y2="627.70" stroke="#434343" stroke-width="1.8"/>
<line x1="572.91" y1="1115.70" x2="572.91" y2="1112.20" stroke="#434343" stroke-width="1.8"/>
<line x1="572.91" y1="624.20" x2="572.91" y2="627.70" stroke="#434343" stroke-width="1.8"/>
<line x1="577.93" y1="1115.70" x2="577.93" y2="1112.20" stroke="#434343" stroke-width="1.8"/>
<line x1="577.93" y1="624.20" x2="577.93" y2="627.70" stroke="#434343" stroke-width="1.8"/>
<line x1="582.27" y1="1115.70" x2="582.27" y2="1112.20" stroke="#434343" stroke-width="1.8"/>
<line x1="582.27" y1="624.20" x2="582.27" y2="627.70" stroke="#434343" stroke-width="1.8"/>
<line x1="586.10" y1="1115.70" x2="586.10" y2="1112.20" stroke="#434343" stroke-width="1.8"/>
<line x1="586.10" y1="624.20" x2="586.10" y2="627.70" stroke="#434343" stroke-width="1.8"/>
<line x1="589.52" y1="1115.70" x2="589.52" y2="1112.20" stroke="#434343" stroke-width="1.8"/>
<line x1="589.52" y1="624.20" x2="589.52" y2="627.70" stroke="#434343" stroke-width="1.8"/>
<line x1="612.06" y1="1115.70" x2="612.06" y2="1112.20" stroke="#434343" stroke-width="1.8"/>
<line x1="612.06" y1="624.20" x2="612.06" y2="627.70" stroke="#434343" stroke-width="1.8"/>
<line x1="625.25" y1="1115.70" x2="625.25" y2="1112.20" stroke="#434343" stroke-width="1.8"/>
<line x1="625.25" y1="624.20" x2="625.25" y2="627.70" stroke="#434343" stroke-width="1.8"/>
<line x1="634.60" y1="1115.70" x2="634.60" y2="1112.20" stroke="#434343" stroke-width="1.8"/>
<line x1="634.60" y1="624.20" x2="634.60" y2="627.70" stroke="#434343" stroke-width="1.8"/>
<line x1="641.86" y1="1115.70" x2="641.86" y2="1112.20" stroke="#434343" stroke-width="1.8"/>
<line x1="641.86" y1="624.20" x2="641.86" y2="627.70" stroke="#434343" stroke-width="1.8"/>
<line x1="647.79" y1="1115.70" x2="647.79" y2="1112.20" stroke="#434343" stroke-width="1.8"/>
<line x1="647.79" y1="624.20" x2="647.79" y2="627.70" stroke="#434343" stroke-width="1.8"/>
<line x1="652.80" y1="1115.70" x2="652.80" y2="1112.20" stroke="#434343" stroke-width="1.8"/>
<line x1="652.80" y1="624.20" x2="652.80" y2="627.70" stroke="#434343" stroke-width="1.8"/>
<line x1="657.14" y1="1115.70" x2="657.14" y2="1112.20" stroke="#434343" stroke-width="1.8"/>
<line x1="657.14" y1="624.20" x2="657.14" y2="627.70" stroke="#434343" stroke-width="1.8"/>
<line x1="660.97" y1="1115.70" x2="660.97" y2="1112.20" stroke="#434343" stroke-width="1.8"/>
<line x1="660.97" y1="624.20" x2="660.97" y2="627.70" stroke="#434343" stroke-width="1.8"/>
<line x1="215.15" y1="1115.70" x2="215.15" y2="1109.20" stroke="#434343" stroke-width="1.8"/>
<line x1="215.15" y1="624.20" x2="215.15" y2="630.70" stroke="#434343" stroke-width="1.8"/>
<line x1="364.90" y1="1115.70" x2="364.90" y2="1109.20" stroke="#434343" stroke-width="1.8"/>
<line x1="364.90" y1="624.20" x2="364.90" y2="630.70" stroke="#434343" stroke-width="1.8"/>
<line x1="514.65" y1="1115.70" x2="514.65" y2="1109.20" stroke="#434343" stroke-width="1.8"/>
<line x1="514.65" y1="624.20" x2="514.65" y2="630.70" stroke="#434343" stroke-width="1.8"/>
<line x1="65.40" y1="1033.78" x2="71.90" y2="1033.78" stroke="#434343" stroke-width="1.8"/>
<line x1="664.40" y1="1033.78" x2="657.90" y2="1033.78" stroke="#434343" stroke-width="1.8"/>
<line x1="65.40" y1="951.87" x2="71.90" y2="951.87" stroke="#434343" stroke-width="1.8"/>
<line x1="664.40" y1="951.87" x2="657.90" y2="951.87" stroke="#434343" stroke-width="1.8"/>
<line x1="65.40" y1="869.95" x2="71.90" y2="869.95" stroke="#434343" stroke-width="1.8"/>
<line x1="664.40" y1="869.95" x2="657.90" y2="869.95" stroke="#434343" stroke-width="1.8"/>
<line x1="65.40" y1="788.03" x2="71.90" y2="788.03" stroke="#434343" stroke-width="1.8"/>
<line x1="664.40" y1="788.03" x2="657.90" y2="788.03" stroke="#434343" stroke-width="1.8"/>
<line x1="65.40" y1="706.12" x2="71.90" y2="706.12" stroke="#434343" stroke-width="1.8"/>
<line x1="664.40" y1="706.12" x2="657.90" y2="706.12" stroke="#434343" stroke-width="1.8"/>
<path d="M48.87,1132.97 L50.88,1132.97 L50.88,1146.00 L48.87,1146.00 Z" fill="#000"/>
<path d="M49.89,1133.51 C48.90,1135.20 47.28,1136.19 45.21,1136.64" fill="none" stroke="#000" stroke-width="1.80"/>
<text x="53.69" y="1146.00" font-size="18" text-anchor="start" font-weight="normal" >0</text>
<text x="64.00" y="1137.30" font-size="15" text-anchor="start" font-weight="normal" >-</text>
<text x="69.00" y="1137.30" font-size="15" text-anchor="start" font-weight="normal" >2</text>
<text x="77.34" y="1137.30" font-size="15" text-anchor="start" font-weight="normal" >0</text>
<path d="M198.62,1132.97 L200.63,1132.97 L200.63,1146.00 L198.62,1146.00 Z" fill="#000"/>
<path d="M199.64,1133.51 C198.65,1135.20 197.03,1136.19 194.96,1136.64" fill="none" stroke="#000" stroke-width="1.80"/>
<text x="203.44" y="1146.00" font-size="18" text-anchor="start" font-weight="normal" >0</text>
<text x="213.75" y="1137.30" font-size="15" text-anchor="start" font-weight="normal" >-</text>
<path d="M223.06,1126.44 L224.75,1126.44 L224.75,1137.30 L223.06,1137.30 Z" fill="#000"/>
<path d="M223.92,1126.89 C223.09,1128.30 221.75,1129.12 220.02,1129.50" fill="none" stroke="#000" stroke-width="1.50"/>
<text x="227.09" y="1137.30" font-size="15" text-anchor="start" font-weight="normal" >8</text>
<path d="M348.37,1132.97 L350.38,1132.97 L350.38,1146.00 L348.37,1146.00 Z" fill="#000"/>
<path d="M349.39,1133.51 C348.40,1135.20 346.78,1136.19 344.71,1136.64" fill="none" stroke="#000" stroke-width="1.80"/>
<text x="353.19" y="1146.00" font-size="18" text-anchor="start" font-weight="normal" >0</text>
<text x="363.50" y="1137.30" font-size="15" text-anchor="start" font-weight="normal" >-</text>
<path d="M372.81,1126.44 L374.50,1126.44 L374.50,1137.30 L372.81,1137.30 Z" fill="#000"/>
<path d="M373.67,1126.89 C372.85,1128.30 371.50,1129.12 369.77,1129.50" fill="none" stroke="#000" stroke-width="1.50"/>
<text x="376.83" y="1137.30" font-size="15" text-anchor="start" font-weight="normal" >6</text>
<path d="M498.12,1132.97 L500.13,1132.97 L500.13,1146.00 L498.12,1146.00 Z" fill="#000"/>
<path d="M499.14,1133.51 C498.15,1135.20 496.53,1136.19 494.46,1136.64" fill="none" stroke="#000" stroke-width="1.80"/>
<text x="502.94" y="1146.00" font-size="18" text-anchor="start" font-weight="normal" >0</text>
<text x="513.25" y="1137.30" font-size="15" text-anchor="start" font-weight="normal" >-</text>
<path d="M522.57,1126.44 L524.25,1126.44 L524.25,1137.30 L522.57,1137.30 Z" fill="#000"/>
<path d="M523.42,1126.89 C522.60,1128.30 521.25,1129.12 519.52,1129.50" fill="none" stroke="#000" stroke-width="1.50"/>
<text x="526.59" y="1137.30" font-size="15" text-anchor="start" font-weight="normal" >4</text>
<path d="M647.87,1132.97 L649.88,1132.97 L649.88,1146.00 L647.87,1146.00 Z" fill="#000"/>
<path d="M648.89,1133.51 C647.90,1135.20 646.28,1136.19 644.21,1136.64" fill="none" stroke="#000" stroke-width="1.80"/>
<text x="652.69" y="1146.00" font-size="18" text-anchor="start" font-weight="normal" >0</text>
<text x="663.00" y="1137.30" font-size="15" text-anchor="start" font-weight="normal" >-</text>
<path d="M672.32,1126.44 L674.00,1126.44 L674.00,1137.30 L672.32,1137.30 Z" fill="#000"/>
<path d="M673.17,1126.89 C672.35,1128.30 671.00,1129.12 669.27,1129.50" fill="none" stroke="#000" stroke-width="1.50"/>
<text x="676.34" y="1137.30" font-size="15" text-anchor="start" font-weight="normal" >2</text>
<path d="M53.38,1109.87 L55.39,1109.87 L55.39,1122.90 L53.38,1122.90 Z" fill="#000"/>
<path d="M54.40,1110.41 C53.41,1112.10 51.79,1113.09 49.72,1113.54" fill="none" stroke="#000" stroke-width="1.80"/>
<path d="M38.36,1027.95 L40.38,1027.95 L40.38,1040.98 L38.36,1040.98 Z" fill="#000"/>
<path d="M39.39,1028.49 C38.40,1030.18 36.78,1031.17 34.71,1031.62" fill="none" stroke="#000" stroke-width="1.80"/>
<text x="43.19" y="1040.98" font-size="18" text-anchor="start" font-weight="normal" >.</text>
<text x="48.19" y="1040.98" font-size="18" text-anchor="start" font-weight="normal" >5</text>
<text x="48.19" y="959.07" font-size="18" text-anchor="start" font-weight="normal" >2</text>
<text x="33.18" y="877.15" font-size="18" text-anchor="start" font-weight="normal" >2</text>
<text x="43.19" y="877.15" font-size="18" text-anchor="start" font-weight="normal" >.</text>
<text x="48.19" y="877.15" font-size="18" text-anchor="start" font-weight="normal" >5</text>
<text x="48.19" y="795.23" font-size="18" text-anchor="start" font-weight="normal" >3</text>
<text x="33.18" y="713.32" font-size="18" text-anchor="start" font-weight="normal" >3</text>
<text x="43.19" y="713.32" font-size="18" text-anchor="start" font-weight="normal" >.</text>
<text x="48.19" y="713.32" font-size="18" text-anchor="start" font-weight="normal" >5</text>
<text x="48.19" y="631.40" font-size="18" text-anchor="start" font-weight="normal" >4</text>
<text x="259.20" y="1186.00" font-size="24" text-anchor="start" font-weight="normal" >permeability (m</text>
<text x="425.50" y="1171.60" font-size="17" text-anchor="start" font-weight="normal" >2</text>
<text x="439.30" y="1186.00" font-size="24" text-anchor="start" font-weight="normal" >)</text>
<text x="0.00" y="0.00" font-size="24" text-anchor="middle" font-weight="normal" transform="translate(24.2,892.5) rotate(-90)">thermal conductivity (W/m/K)</text>
<text x="8.80" y="635.00" font-size="32" text-anchor="start" font-weight="bold" >b</text>
<line x1="222.20" y1="666.40" x2="222.20" y2="713.50" stroke="#000" stroke-width="1.75"/>
<line x1="206.30" y1="682.70" x2="206.30" y2="708.30" stroke="#000" stroke-width="1.75"/>
<line x1="214.20" y1="681.40" x2="214.20" y2="690.60" stroke="#000" stroke-width="1.75"/>
<line x1="204.10" y1="676.80" x2="204.10" y2="683.10" stroke="#000" stroke-width="1.75"/>
<line x1="240.40" y1="703.10" x2="240.40" y2="733.40" stroke="#000" stroke-width="1.75"/>
<line x1="235.40" y1="751.90" x2="235.40" y2="763.50" stroke="#000" stroke-width="1.75"/>
<line x1="259.70" y1="758.20" x2="259.70" y2="837.80" stroke="#000" stroke-width="1.75"/>
<line x1="297.40" y1="762.70" x2="297.40" y2="782.50" stroke="#000" stroke-width="1.75"/>
<line x1="298.90" y1="745.10" x2="298.90" y2="771.50" stroke="#000" stroke-width="1.75"/>
<line x1="429.90" y1="885.00" x2="429.90" y2="912.80" stroke="#000" stroke-width="1.75"/>
<line x1="429.90" y1="898.90" x2="455.10" y2="898.90" stroke="#000" stroke-width="1.75"/>
<line x1="433.00" y1="875.90" x2="433.00" y2="937.80" stroke="#000" stroke-width="1.75"/>
<line x1="433.00" y1="907.00" x2="460.40" y2="907.00" stroke="#000" stroke-width="1.75"/>
<line x1="486.10" y1="856.80" x2="486.10" y2="902.30" stroke="#000" stroke-width="1.75"/>
<line x1="486.10" y1="879.40" x2="524.10" y2="879.40" stroke="#000" stroke-width="1.75"/>
<line x1="514.00" y1="914.60" x2="514.00" y2="920.70" stroke="#000" stroke-width="1.75"/>
<line x1="416.60" y1="917.50" x2="535.90" y2="917.50" stroke="#000" stroke-width="1.75"/>
<line x1="646.50" y1="1013.40" x2="646.50" y2="1041.20" stroke="#000" stroke-width="1.75"/>
<line x1="637.90" y1="1027.20" x2="652.80" y2="1027.20" stroke="#000" stroke-width="1.75"/>
<rect x="214.75" y="682.45" width="14.90" height="14.90" fill="#ff0000" stroke="#000" stroke-width="1.7"/>
<rect x="198.85" y="688.05" width="14.90" height="14.90" fill="#ff0000" stroke="#000" stroke-width="1.7"/>
<rect x="206.75" y="678.55" width="14.90" height="14.90" fill="#ff0000" stroke="#000" stroke-width="1.7"/>
<rect x="196.65" y="672.45" width="14.90" height="14.90" fill="#ff0000" stroke="#000" stroke-width="1.7"/>
<rect x="232.95" y="710.85" width="14.90" height="14.90" fill="#ff0000" stroke="#000" stroke-width="1.7"/>
<rect x="227.95" y="750.25" width="14.90" height="14.90" fill="#ff0000" stroke="#000" stroke-width="1.7"/>
<rect x="252.25" y="790.55" width="14.90" height="14.90" fill="#ff0000" stroke="#000" stroke-width="1.7"/>
<rect x="289.95" y="765.15" width="14.90" height="14.90" fill="#ff0000" stroke="#000" stroke-width="1.7"/>
<rect x="291.45" y="750.85" width="14.90" height="14.90" fill="#ff0000" stroke="#000" stroke-width="1.7"/>
<rect x="422.45" y="891.45" width="14.90" height="14.90" fill="#ff0000" stroke="#000" stroke-width="1.7"/>
<rect x="425.55" y="899.55" width="14.90" height="14.90" fill="#ff0000" stroke="#000" stroke-width="1.7"/>
<rect x="478.65" y="871.95" width="14.90" height="14.90" fill="#ff0000" stroke="#000" stroke-width="1.7"/>
<rect x="506.55" y="910.05" width="14.90" height="14.90" fill="#ff0000" stroke="#000" stroke-width="1.7"/>
<rect x="639.05" y="1019.75" width="14.90" height="14.90" fill="#ff0000" stroke="#000" stroke-width="1.7"/>
<line x1="219.10" y1="666.40" x2="225.30" y2="666.40" stroke="#000" stroke-width="1.75"/>
<line x1="219.10" y1="713.50" x2="225.30" y2="713.50" stroke="#000" stroke-width="1.75"/>
<line x1="203.20" y1="682.70" x2="209.40" y2="682.70" stroke="#000" stroke-width="1.75"/>
<line x1="203.20" y1="708.30" x2="209.40" y2="708.30" stroke="#000" stroke-width="1.75"/>
<line x1="203.70" y1="699.80" x2="209.90" y2="699.80" stroke="#000" stroke-width="1.75"/>
<line x1="211.10" y1="681.40" x2="217.30" y2="681.40" stroke="#000" stroke-width="1.75"/>
<line x1="211.10" y1="690.60" x2="217.30" y2="690.60" stroke="#000" stroke-width="1.75"/>
<line x1="201.00" y1="676.80" x2="207.20" y2="676.80" stroke="#000" stroke-width="1.75"/>
<line x1="201.00" y1="683.10" x2="207.20" y2="683.10" stroke="#000" stroke-width="1.75"/>
<line x1="202.90" y1="678.40" x2="209.10" y2="678.40" stroke="#000" stroke-width="1.75"/>
<line x1="237.30" y1="703.10" x2="243.50" y2="703.10" stroke="#000" stroke-width="1.75"/>
<line x1="237.30" y1="733.40" x2="243.50" y2="733.40" stroke="#000" stroke-width="1.75"/>
<line x1="232.30" y1="751.90" x2="238.50" y2="751.90" stroke="#000" stroke-width="1.75"/>
<line x1="232.30" y1="763.50" x2="238.50" y2="763.50" stroke="#000" stroke-width="1.75"/>
<line x1="256.60" y1="758.20" x2="262.80" y2="758.20" stroke="#000" stroke-width="1.75"/>
<line x1="256.60" y1="837.80" x2="262.80" y2="837.80" stroke="#000" stroke-width="1.75"/>
<line x1="294.30" y1="762.70" x2="300.50" y2="762.70" stroke="#000" stroke-width="1.75"/>
<line x1="294.30" y1="782.50" x2="300.50" y2="782.50" stroke="#000" stroke-width="1.75"/>
<line x1="295.80" y1="745.10" x2="302.00" y2="745.10" stroke="#000" stroke-width="1.75"/>
<line x1="295.80" y1="771.50" x2="302.00" y2="771.50" stroke="#000" stroke-width="1.75"/>
<line x1="426.80" y1="885.00" x2="433.00" y2="885.00" stroke="#000" stroke-width="1.75"/>
<line x1="426.80" y1="912.80" x2="433.00" y2="912.80" stroke="#000" stroke-width="1.75"/>
<line x1="455.10" y1="895.80" x2="455.10" y2="902.00" stroke="#000" stroke-width="1.75"/>
<line x1="429.90" y1="875.90" x2="436.10" y2="875.90" stroke="#000" stroke-width="1.75"/>
<line x1="429.90" y1="937.80" x2="436.10" y2="937.80" stroke="#000" stroke-width="1.75"/>
<line x1="460.40" y1="903.90" x2="460.40" y2="910.10" stroke="#000" stroke-width="1.75"/>
<line x1="483.00" y1="856.80" x2="489.20" y2="856.80" stroke="#000" stroke-width="1.75"/>
<line x1="483.00" y1="902.30" x2="489.20" y2="902.30" stroke="#000" stroke-width="1.75"/>
<line x1="524.10" y1="876.30" x2="524.10" y2="882.50" stroke="#000" stroke-width="1.75"/>
<line x1="510.90" y1="914.60" x2="517.10" y2="914.60" stroke="#000" stroke-width="1.75"/>
<line x1="510.90" y1="920.70" x2="517.10" y2="920.70" stroke="#000" stroke-width="1.75"/>
<line x1="416.60" y1="914.40" x2="416.60" y2="920.60" stroke="#000" stroke-width="1.75"/>
<line x1="535.90" y1="914.40" x2="535.90" y2="920.60" stroke="#000" stroke-width="1.75"/>
<line x1="643.40" y1="1013.40" x2="649.60" y2="1013.40" stroke="#000" stroke-width="1.75"/>
<line x1="643.40" y1="1041.20" x2="649.60" y2="1041.20" stroke="#000" stroke-width="1.75"/>
<line x1="637.90" y1="1024.10" x2="637.90" y2="1030.30" stroke="#000" stroke-width="1.75"/>
<line x1="652.80" y1="1024.10" x2="652.80" y2="1030.30" stroke="#000" stroke-width="1.75"/>
<line x1="248.60" y1="687.10" x2="248.60" y2="745.60" stroke="#000" stroke-width="1.75"/>
<line x1="210.90" y1="716.60" x2="265.40" y2="716.60" stroke="#000" stroke-width="1.75"/>
<line x1="228.80" y1="739.10" x2="228.80" y2="765.70" stroke="#000" stroke-width="1.75"/>
<line x1="222.80" y1="752.40" x2="234.50" y2="752.40" stroke="#000" stroke-width="1.75"/>
<line x1="269.00" y1="748.50" x2="269.00" y2="771.80" stroke="#000" stroke-width="1.75"/>
<line x1="257.00" y1="760.30" x2="277.80" y2="760.30" stroke="#000" stroke-width="1.75"/>
<path d="M248.60,704.91 L259.19,722.42 L238.01,722.42 Z" fill="#0000ff" stroke="#000" stroke-width="1.7" stroke-linejoin="miter"/>
<path d="M228.80,740.71 L239.39,758.22 L218.21,758.22 Z" fill="#0000ff" stroke="#000" stroke-width="1.7" stroke-linejoin="miter"/>
<path d="M269.00,748.61 L279.59,766.12 L258.41,766.12 Z" fill="#0000ff" stroke="#000" stroke-width="1.7" stroke-linejoin="miter"/>
<line x1="245.50" y1="687.10" x2="251.70" y2="687.10" stroke="#000" stroke-width="1.75"/>
<line x1="245.50" y1="745.60" x2="251.70" y2="745.60" stroke="#000" stroke-width="1.75"/>
<line x1="210.90" y1="713.50" x2="210.90" y2="719.70" stroke="#000" stroke-width="1.75"/>
<line x1="265.40" y1="713.50" x2="265.40" y2="719.70" stroke="#000" stroke-width="1.75"/>
<line x1="225.70" y1="739.10" x2="231.90" y2="739.10" stroke="#000" stroke-width="1.75"/>
<line x1="225.70" y1="765.70" x2="231.90" y2="765.70" stroke="#000" stroke-width="1.75"/>
<line x1="222.80" y1="749.30" x2="222.80" y2="755.50" stroke="#000" stroke-width="1.75"/>
<line x1="234.50" y1="749.30" x2="234.50" y2="755.50" stroke="#000" stroke-width="1.75"/>
<line x1="265.90" y1="748.50" x2="272.10" y2="748.50" stroke="#000" stroke-width="1.75"/>
<line x1="265.90" y1="771.80" x2="272.10" y2="771.80" stroke="#000" stroke-width="1.75"/>
<line x1="257.00" y1="757.20" x2="257.00" y2="763.40" stroke="#000" stroke-width="1.75"/>
<line x1="277.80" y1="757.20" x2="277.80" y2="763.40" stroke="#000" stroke-width="1.75"/>
<line x1="406.50" y1="966.70" x2="438.00" y2="966.70" stroke="#000" stroke-width="1.75"/>
<circle cx="406.50" cy="966.70" r="6.30" fill="#000"/>
<line x1="438.00" y1="963.60" x2="438.00" y2="969.80" stroke="#000" stroke-width="1.75"/>
<rect x="529.3" y="631.7" width="130.70" height="64.80" fill="#fff" stroke="#434343" stroke-width="1.5"/>
<rect x="539.15" y="636.25" width="14.90" height="14.90" fill="#ff0000" stroke="#000" stroke-width="1.7"/>
<path d="M546.60,653.51 L557.19,671.02 L536.01,671.02 Z" fill="#0000ff" stroke="#000" stroke-width="1.7" stroke-linejoin="miter"/>
<circle cx="546.60" cy="684.60" r="6.30" fill="#000"/>
<text x="563.90" y="649.60" font-size="16.8" text-anchor="start" font-weight="normal" >sedimentary</text>
<text x="563.90" y="669.70" font-size="16.8" text-anchor="start" font-weight="normal" >basement</text>
<text x="563.90" y="690.50" font-size="16.8" text-anchor="start" font-weight="normal" >other</text>
<rect x="62.2" y="1231.0" width="605.80" height="505.70" fill="none" stroke="#434343" stroke-width="1.8"/>
<line x1="163.17" y1="1736.70" x2="163.17" y2="1730.20" stroke="#434343" stroke-width="1.8"/>
<line x1="163.17" y1="1231.00" x2="163.17" y2="1237.50" stroke="#434343" stroke-width="1.8"/>
<line x1="264.13" y1="1736.70" x2="264.13" y2="1730.20" stroke="#434343" stroke-width="1.8"/>
<line x1="264.13" y1="1231.00" x2="264.13" y2="1237.50" stroke="#434343" stroke-width="1.8"/>
<line x1="365.10" y1="1736.70" x2="365.10" y2="1730.20" stroke="#434343" stroke-width="1.8"/>
<line x1="365.10" y1="1231.00" x2="365.10" y2="1237.50" stroke="#434343" stroke-width="1.8"/>
<line x1="466.07" y1="1736.70" x2="466.07" y2="1730.20" stroke="#434343" stroke-width="1.8"/>
<line x1="466.07" y1="1231.00" x2="466.07" y2="1237.50" stroke="#434343" stroke-width="1.8"/>
<line x1="567.03" y1="1736.70" x2="567.03" y2="1730.20" stroke="#434343" stroke-width="1.8"/>
<line x1="567.03" y1="1231.00" x2="567.03" y2="1237.50" stroke="#434343" stroke-width="1.8"/>
<line x1="62.20" y1="1652.42" x2="68.70" y2="1652.42" stroke="#434343" stroke-width="1.8"/>
<line x1="668.00" y1="1652.42" x2="661.50" y2="1652.42" stroke="#434343" stroke-width="1.8"/>
<line x1="62.20" y1="1568.13" x2="68.70" y2="1568.13" stroke="#434343" stroke-width="1.8"/>
<line x1="668.00" y1="1568.13" x2="661.50" y2="1568.13" stroke="#434343" stroke-width="1.8"/>
<line x1="62.20" y1="1483.85" x2="68.70" y2="1483.85" stroke="#434343" stroke-width="1.8"/>
<line x1="668.00" y1="1483.85" x2="661.50" y2="1483.85" stroke="#434343" stroke-width="1.8"/>
<line x1="62.20" y1="1399.57" x2="68.70" y2="1399.57" stroke="#434343" stroke-width="1.8"/>
<line x1="668.00" y1="1399.57" x2="661.50" y2="1399.57" stroke="#434343" stroke-width="1.8"/>
<line x1="62.20" y1="1315.28" x2="68.70" y2="1315.28" stroke="#434343" stroke-width="1.8"/>
<line x1="668.00" y1="1315.28" x2="661.50" y2="1315.28" stroke="#434343" stroke-width="1.8"/>
<path d="M61.88,1747.97 L63.90,1747.97 L63.90,1761.00 L61.88,1761.00 Z" fill="#000"/>
<path d="M62.91,1748.51 C61.92,1750.20 60.30,1751.19 58.23,1751.64" fill="none" stroke="#000" stroke-width="1.80"/>
<text x="157.66" y="1761.00" font-size="18" text-anchor="start" font-weight="normal" >2</text>
<text x="258.63" y="1761.00" font-size="18" text-anchor="start" font-weight="normal" >3</text>
<text x="359.60" y="1761.00" font-size="18" text-anchor="start" font-weight="normal" >4</text>
<text x="460.56" y="1761.00" font-size="18" text-anchor="start" font-weight="normal" >5</text>
<text x="561.53" y="1761.00" font-size="18" text-anchor="start" font-weight="normal" >6</text>
<text x="662.50" y="1761.00" font-size="18" text-anchor="start" font-weight="normal" >7</text>
<path d="M50.38,1730.87 L52.39,1730.87 L52.39,1743.90 L50.38,1743.90 Z" fill="#000"/>
<path d="M51.40,1731.41 C50.41,1733.10 48.79,1734.09 46.72,1734.54" fill="none" stroke="#000" stroke-width="1.80"/>
<path d="M35.36,1646.58 L37.38,1646.58 L37.38,1659.62 L35.36,1659.62 Z" fill="#000"/>
<path d="M36.39,1647.12 C35.40,1648.82 33.78,1649.81 31.71,1650.26" fill="none" stroke="#000" stroke-width="1.80"/>
<text x="40.19" y="1659.62" font-size="18" text-anchor="start" font-weight="normal" >.</text>
<text x="45.19" y="1659.62" font-size="18" text-anchor="start" font-weight="normal" >5</text>
<text x="45.19" y="1575.33" font-size="18" text-anchor="start" font-weight="normal" >2</text>
<text x="30.18" y="1491.05" font-size="18" text-anchor="start" font-weight="normal" >2</text>
<text x="40.19" y="1491.05" font-size="18" text-anchor="start" font-weight="normal" >.</text>
<text x="45.19" y="1491.05" font-size="18" text-anchor="start" font-weight="normal" >5</text>
<text x="45.19" y="1406.77" font-size="18" text-anchor="start" font-weight="normal" >3</text>
<text x="30.18" y="1322.48" font-size="18" text-anchor="start" font-weight="normal" >3</text>
<text x="40.19" y="1322.48" font-size="18" text-anchor="start" font-weight="normal" >.</text>
<text x="45.19" y="1322.48" font-size="18" text-anchor="start" font-weight="normal" >5</text>
<text x="45.19" y="1238.20" font-size="18" text-anchor="start" font-weight="normal" >4</text>
<text x="343.80" y="1792.90" font-size="24" text-anchor="middle" font-weight="normal" >P-wave velocity (km/s)</text>
<text x="0.00" y="0.00" font-size="24" text-anchor="middle" font-weight="normal" transform="translate(20.7,1508.9) rotate(-90)">thermal conductivity (W/m/K)</text>
<text x="11.90" y="1242.40" font-size="32" text-anchor="start" font-weight="bold" >c</text>
<line x1="415.60" y1="1286.50" x2="415.60" y2="1307.70" stroke="#000" stroke-width="1.75"/>
<line x1="422.10" y1="1269.40" x2="422.10" y2="1311.40" stroke="#000" stroke-width="1.75"/>
<line x1="420.80" y1="1290.40" x2="423.90" y2="1290.40" stroke="#000" stroke-width="1.75"/>
<line x1="437.00" y1="1284.90" x2="437.00" y2="1291.50" stroke="#000" stroke-width="1.75"/>
<line x1="428.30" y1="1288.20" x2="445.80" y2="1288.20" stroke="#000" stroke-width="1.75"/>
<line x1="407.40" y1="1291.30" x2="407.40" y2="1317.10" stroke="#000" stroke-width="1.75"/>
<line x1="400.50" y1="1304.20" x2="414.30" y2="1304.20" stroke="#000" stroke-width="1.75"/>
<line x1="352.10" y1="1289.90" x2="352.10" y2="1299.20" stroke="#000" stroke-width="1.75"/>
<line x1="341.50" y1="1294.40" x2="362.00" y2="1294.40" stroke="#000" stroke-width="1.75"/>
<line x1="378.30" y1="1274.00" x2="378.30" y2="1322.70" stroke="#000" stroke-width="1.75"/>
<line x1="362.00" y1="1298.50" x2="395.00" y2="1298.50" stroke="#000" stroke-width="1.75"/>
<line x1="347.10" y1="1312.00" x2="347.10" y2="1343.60" stroke="#000" stroke-width="1.75"/>
<line x1="334.30" y1="1327.80" x2="359.10" y2="1327.80" stroke="#000" stroke-width="1.75"/>
<line x1="375.20" y1="1318.60" x2="375.20" y2="1353.90" stroke="#000" stroke-width="1.75"/>
<line x1="374.70" y1="1335.80" x2="375.70" y2="1335.80" stroke="#000" stroke-width="1.75"/>
<line x1="344.00" y1="1355.10" x2="344.00" y2="1381.50" stroke="#000" stroke-width="1.75"/>
<line x1="337.50" y1="1368.30" x2="350.10" y2="1368.30" stroke="#000" stroke-width="1.75"/>
<line x1="339.90" y1="1373.00" x2="339.90" y2="1393.60" stroke="#000" stroke-width="1.75"/>
<line x1="334.60" y1="1383.10" x2="344.50" y2="1383.10" stroke="#000" stroke-width="1.75"/>
<line x1="355.00" y1="1368.50" x2="355.00" y2="1450.60" stroke="#000" stroke-width="1.75"/>
<line x1="345.10" y1="1409.40" x2="364.60" y2="1409.40" stroke="#000" stroke-width="1.75"/>
<line x1="344.00" y1="1470.20" x2="344.00" y2="1517.00" stroke="#000" stroke-width="1.75"/>
<line x1="320.50" y1="1493.60" x2="367.60" y2="1493.60" stroke="#000" stroke-width="1.75"/>
<line x1="315.60" y1="1499.60" x2="315.60" y2="1527.60" stroke="#000" stroke-width="1.75"/>
<line x1="286.80" y1="1513.40" x2="344.20" y2="1513.40" stroke="#000" stroke-width="1.75"/>
<line x1="250.00" y1="1490.00" x2="250.00" y2="1553.90" stroke="#000" stroke-width="1.75"/>
<line x1="205.40" y1="1521.80" x2="294.20" y2="1521.80" stroke="#000" stroke-width="1.75"/>
<line x1="326.60" y1="1529.60" x2="326.60" y2="1535.80" stroke="#000" stroke-width="1.75"/>
<line x1="316.90" y1="1532.50" x2="336.20" y2="1532.50" stroke="#000" stroke-width="1.75"/>
<line x1="154.00" y1="1631.00" x2="154.00" y2="1660.10" stroke="#000" stroke-width="1.75"/>
<line x1="141.60" y1="1645.40" x2="166.20" y2="1645.40" stroke="#000" stroke-width="1.75"/>
<rect x="408.15" y="1289.65" width="14.90" height="14.90" fill="#ff0000" stroke="#000" stroke-width="1.7"/>
<rect x="414.65" y="1282.95" width="14.90" height="14.90" fill="#ff0000" stroke="#000" stroke-width="1.7"/>
<rect x="429.55" y="1280.75" width="14.90" height="14.90" fill="#ff0000" stroke="#000" stroke-width="1.7"/>
<rect x="399.95" y="1296.75" width="14.90" height="14.90" fill="#ff0000" stroke="#000" stroke-width="1.7"/>
<rect x="344.65" y="1286.95" width="14.90" height="14.90" fill="#ff0000" stroke="#000" stroke-width="1.7"/>
<rect x="370.85" y="1291.05" width="14.90" height="14.90" fill="#ff0000" stroke="#000" stroke-width="1.7"/>
<rect x="339.65" y="1320.35" width="14.90" height="14.90" fill="#ff0000" stroke="#000" stroke-width="1.7"/>
<rect x="367.75" y="1328.35" width="14.90" height="14.90" fill="#ff0000" stroke="#000" stroke-width="1.7"/>
<rect x="336.55" y="1360.85" width="14.90" height="14.90" fill="#ff0000" stroke="#000" stroke-width="1.7"/>
<rect x="332.45" y="1375.65" width="14.90" height="14.90" fill="#ff0000" stroke="#000" stroke-width="1.7"/>
<rect x="347.55" y="1401.95" width="14.90" height="14.90" fill="#ff0000" stroke="#000" stroke-width="1.7"/>
<rect x="336.55" y="1486.15" width="14.90" height="14.90" fill="#ff0000" stroke="#000" stroke-width="1.7"/>
<rect x="308.15" y="1505.95" width="14.90" height="14.90" fill="#ff0000" stroke="#000" stroke-width="1.7"/>
<rect x="242.55" y="1514.35" width="14.90" height="14.90" fill="#ff0000" stroke="#000" stroke-width="1.7"/>
<rect x="319.15" y="1525.05" width="14.90" height="14.90" fill="#ff0000" stroke="#000" stroke-width="1.7"/>
<rect x="146.55" y="1637.95" width="14.90" height="14.90" fill="#ff0000" stroke="#000" stroke-width="1.7"/>
<line x1="412.50" y1="1286.50" x2="418.70" y2="1286.50" stroke="#000" stroke-width="1.75"/>
<line x1="412.50" y1="1307.70" x2="418.70" y2="1307.70" stroke="#000" stroke-width="1.75"/>
<line x1="419.00" y1="1269.40" x2="425.20" y2="1269.40" stroke="#000" stroke-width="1.75"/>
<line x1="419.00" y1="1311.40" x2="425.20" y2="1311.40" stroke="#000" stroke-width="1.75"/>
<line x1="420.80" y1="1287.30" x2="420.80" y2="1293.50" stroke="#000" stroke-width="1.75"/>
<line x1="423.90" y1="1287.30" x2="423.90" y2="1293.50" stroke="#000" stroke-width="1.75"/>
<line x1="433.90" y1="1284.90" x2="440.10" y2="1284.90" stroke="#000" stroke-width="1.75"/>
<line x1="433.90" y1="1291.50" x2="440.10" y2="1291.50" stroke="#000" stroke-width="1.75"/>
<line x1="428.30" y1="1285.10" x2="428.30" y2="1291.30" stroke="#000" stroke-width="1.75"/>
<line x1="445.80" y1="1285.10" x2="445.80" y2="1291.30" stroke="#000" stroke-width="1.75"/>
<line x1="404.30" y1="1291.30" x2="410.50" y2="1291.30" stroke="#000" stroke-width="1.75"/>
<line x1="404.30" y1="1317.10" x2="410.50" y2="1317.10" stroke="#000" stroke-width="1.75"/>
<line x1="400.50" y1="1301.10" x2="400.50" y2="1307.30" stroke="#000" stroke-width="1.75"/>
<line x1="414.30" y1="1301.10" x2="414.30" y2="1307.30" stroke="#000" stroke-width="1.75"/>
<line x1="349.00" y1="1289.90" x2="355.20" y2="1289.90" stroke="#000" stroke-width="1.75"/>
<line x1="349.00" y1="1299.20" x2="355.20" y2="1299.20" stroke="#000" stroke-width="1.75"/>
<line x1="341.50" y1="1291.30" x2="341.50" y2="1297.50" stroke="#000" stroke-width="1.75"/>
<line x1="362.00" y1="1291.30" x2="362.00" y2="1297.50" stroke="#000" stroke-width="1.75"/>
<line x1="375.20" y1="1274.00" x2="381.40" y2="1274.00" stroke="#000" stroke-width="1.75"/>
<line x1="375.20" y1="1322.70" x2="381.40" y2="1322.70" stroke="#000" stroke-width="1.75"/>
<line x1="362.00" y1="1295.40" x2="362.00" y2="1301.60" stroke="#000" stroke-width="1.75"/>
<line x1="395.00" y1="1295.40" x2="395.00" y2="1301.60" stroke="#000" stroke-width="1.75"/>
<line x1="344.00" y1="1312.00" x2="350.20" y2="1312.00" stroke="#000" stroke-width="1.75"/>
<line x1="344.00" y1="1343.60" x2="350.20" y2="1343.60" stroke="#000" stroke-width="1.75"/>
<line x1="334.30" y1="1324.70" x2="334.30" y2="1330.90" stroke="#000" stroke-width="1.75"/>
<line x1="359.10" y1="1324.70" x2="359.10" y2="1330.90" stroke="#000" stroke-width="1.75"/>
<line x1="372.10" y1="1318.60" x2="378.30" y2="1318.60" stroke="#000" stroke-width="1.75"/>
<line x1="372.10" y1="1353.90" x2="378.30" y2="1353.90" stroke="#000" stroke-width="1.75"/>
<line x1="374.70" y1="1332.70" x2="374.70" y2="1338.90" stroke="#000" stroke-width="1.75"/>
<line x1="375.70" y1="1332.70" x2="375.70" y2="1338.90" stroke="#000" stroke-width="1.75"/>
<line x1="340.90" y1="1355.10" x2="347.10" y2="1355.10" stroke="#000" stroke-width="1.75"/>
<line x1="340.90" y1="1381.50" x2="347.10" y2="1381.50" stroke="#000" stroke-width="1.75"/>
<line x1="337.50" y1="1365.20" x2="337.50" y2="1371.40" stroke="#000" stroke-width="1.75"/>
<line x1="350.10" y1="1365.20" x2="350.10" y2="1371.40" stroke="#000" stroke-width="1.75"/>
<line x1="336.80" y1="1373.00" x2="343.00" y2="1373.00" stroke="#000" stroke-width="1.75"/>
<line x1="336.80" y1="1393.60" x2="343.00" y2="1393.60" stroke="#000" stroke-width="1.75"/>
<line x1="334.60" y1="1380.00" x2="334.60" y2="1386.20" stroke="#000" stroke-width="1.75"/>
<line x1="344.50" y1="1380.00" x2="344.50" y2="1386.20" stroke="#000" stroke-width="1.75"/>
<line x1="351.90" y1="1368.50" x2="358.10" y2="1368.50" stroke="#000" stroke-width="1.75"/>
<line x1="351.90" y1="1450.60" x2="358.10" y2="1450.60" stroke="#000" stroke-width="1.75"/>
<line x1="345.10" y1="1406.30" x2="345.10" y2="1412.50" stroke="#000" stroke-width="1.75"/>
<line x1="364.60" y1="1406.30" x2="364.60" y2="1412.50" stroke="#000" stroke-width="1.75"/>
<line x1="340.90" y1="1470.20" x2="347.10" y2="1470.20" stroke="#000" stroke-width="1.75"/>
<line x1="340.90" y1="1517.00" x2="347.10" y2="1517.00" stroke="#000" stroke-width="1.75"/>
<line x1="320.50" y1="1490.50" x2="320.50" y2="1496.70" stroke="#000" stroke-width="1.75"/>
<line x1="367.60" y1="1490.50" x2="367.60" y2="1496.70" stroke="#000" stroke-width="1.75"/>
<line x1="312.50" y1="1499.60" x2="318.70" y2="1499.60" stroke="#000" stroke-width="1.75"/>
<line x1="312.50" y1="1527.60" x2="318.70" y2="1527.60" stroke="#000" stroke-width="1.75"/>
<line x1="286.80" y1="1510.30" x2="286.80" y2="1516.50" stroke="#000" stroke-width="1.75"/>
<line x1="344.20" y1="1510.30" x2="344.20" y2="1516.50" stroke="#000" stroke-width="1.75"/>
<line x1="246.90" y1="1490.00" x2="253.10" y2="1490.00" stroke="#000" stroke-width="1.75"/>
<line x1="246.90" y1="1553.90" x2="253.10" y2="1553.90" stroke="#000" stroke-width="1.75"/>
<line x1="205.40" y1="1518.70" x2="205.40" y2="1524.90" stroke="#000" stroke-width="1.75"/>
<line x1="294.20" y1="1518.70" x2="294.20" y2="1524.90" stroke="#000" stroke-width="1.75"/>
<line x1="323.50" y1="1529.60" x2="329.70" y2="1529.60" stroke="#000" stroke-width="1.75"/>
<line x1="323.50" y1="1535.80" x2="329.70" y2="1535.80" stroke="#000" stroke-width="1.75"/>
<line x1="316.90" y1="1529.40" x2="316.90" y2="1535.60" stroke="#000" stroke-width="1.75"/>
<line x1="336.20" y1="1529.40" x2="336.20" y2="1535.60" stroke="#000" stroke-width="1.75"/>
<line x1="150.90" y1="1631.00" x2="157.10" y2="1631.00" stroke="#000" stroke-width="1.75"/>
<line x1="150.90" y1="1660.10" x2="157.10" y2="1660.10" stroke="#000" stroke-width="1.75"/>
<line x1="141.60" y1="1642.30" x2="141.60" y2="1648.50" stroke="#000" stroke-width="1.75"/>
<line x1="166.20" y1="1642.30" x2="166.20" y2="1648.50" stroke="#000" stroke-width="1.75"/>
<line x1="431.70" y1="1295.80" x2="431.70" y2="1355.80" stroke="#000" stroke-width="1.75"/>
<line x1="414.20" y1="1326.00" x2="449.20" y2="1326.00" stroke="#000" stroke-width="1.75"/>
<line x1="442.80" y1="1358.90" x2="442.80" y2="1382.80" stroke="#000" stroke-width="1.75"/>
<line x1="427.70" y1="1371.00" x2="458.00" y2="1371.00" stroke="#000" stroke-width="1.75"/>
<line x1="474.20" y1="1349.10" x2="474.20" y2="1376.90" stroke="#000" stroke-width="1.75"/>
<line x1="464.00" y1="1363.10" x2="483.90" y2="1363.10" stroke="#000" stroke-width="1.75"/>
<line x1="532.80" y1="1388.00" x2="532.80" y2="1426.20" stroke="#000" stroke-width="1.75"/>
<line x1="518.00" y1="1407.10" x2="547.70" y2="1407.10" stroke="#000" stroke-width="1.75"/>
<path d="M431.70,1314.31 L442.29,1331.82 L421.11,1331.82 Z" fill="#0000ff" stroke="#000" stroke-width="1.7" stroke-linejoin="miter"/>
<path d="M442.80,1359.31 L453.39,1376.82 L432.21,1376.82 Z" fill="#0000ff" stroke="#000" stroke-width="1.7" stroke-linejoin="miter"/>
<path d="M474.20,1351.41 L484.79,1368.92 L463.61,1368.92 Z" fill="#0000ff" stroke="#000" stroke-width="1.7" stroke-linejoin="miter"/>
<path d="M532.80,1395.41 L543.39,1412.92 L522.21,1412.92 Z" fill="#0000ff" stroke="#000" stroke-width="1.7" stroke-linejoin="miter"/>
<line x1="428.60" y1="1295.80" x2="434.80" y2="1295.80" stroke="#000" stroke-width="1.75"/>
<line x1="428.60" y1="1355.80" x2="434.80" y2="1355.80" stroke="#000" stroke-width="1.75"/>
<line x1="414.20" y1="1322.90" x2="414.20" y2="1329.10" stroke="#000" stroke-width="1.75"/>
<line x1="449.20" y1="1322.90" x2="449.20" y2="1329.10" stroke="#000" stroke-width="1.75"/>
<line x1="439.70" y1="1358.90" x2="445.90" y2="1358.90" stroke="#000" stroke-width="1.75"/>
<line x1="439.70" y1="1382.80" x2="445.90" y2="1382.80" stroke="#000" stroke-width="1.75"/>
<line x1="427.70" y1="1367.90" x2="427.70" y2="1374.10" stroke="#000" stroke-width="1.75"/>
<line x1="458.00" y1="1367.90" x2="458.00" y2="1374.10" stroke="#000" stroke-width="1.75"/>
<line x1="471.10" y1="1349.10" x2="477.30" y2="1349.10" stroke="#000" stroke-width="1.75"/>
<line x1="471.10" y1="1376.90" x2="477.30" y2="1376.90" stroke="#000" stroke-width="1.75"/>
<line x1="464.00" y1="1360.00" x2="464.00" y2="1366.20" stroke="#000" stroke-width="1.75"/>
<line x1="483.90" y1="1360.00" x2="483.90" y2="1366.20" stroke="#000" stroke-width="1.75"/>
<line x1="529.70" y1="1388.00" x2="535.90" y2="1388.00" stroke="#000" stroke-width="1.75"/>
<line x1="529.70" y1="1426.20" x2="535.90" y2="1426.20" stroke="#000" stroke-width="1.75"/>
<line x1="518.00" y1="1404.00" x2="518.00" y2="1410.20" stroke="#000" stroke-width="1.75"/>
<line x1="547.70" y1="1404.00" x2="547.70" y2="1410.20" stroke="#000" stroke-width="1.75"/>
<line x1="495.00" y1="1236.70" x2="495.00" y2="1263.90" stroke="#000" stroke-width="1.75"/>
<line x1="479.90" y1="1249.90" x2="510.90" y2="1249.90" stroke="#000" stroke-width="1.75"/>
<line x1="507.70" y1="1410.90" x2="551.70" y2="1410.90" stroke="#000" stroke-width="1.75"/>
<line x1="464.90" y1="1532.80" x2="464.90" y2="1546.20" stroke="#000" stroke-width="1.75"/>
<line x1="452.50" y1="1539.20" x2="477.40" y2="1539.20" stroke="#000" stroke-width="1.75"/>
<line x1="554.00" y1="1517.40" x2="588.40" y2="1517.40" stroke="#000" stroke-width="1.75"/>
<circle cx="495.00" cy="1249.90" r="6.30" fill="#000"/>
<circle cx="528.90" cy="1410.90" r="6.30" fill="#000"/>
<circle cx="464.90" cy="1539.20" r="6.30" fill="#000"/>
<circle cx="570.70" cy="1517.40" r="6.30" fill="#000"/>
<circle cx="313.20" cy="1583.40" r="6.30" fill="#000"/>
<line x1="491.90" y1="1236.70" x2="498.10" y2="1236.70" stroke="#000" stroke-width="1.75"/>
<line x1="491.90" y1="1263.90" x2="498.10" y2="1263.90" stroke="#000" stroke-width="1.75"/>
<line x1="479.90" y1="1246.80" x2="479.90" y2="1253.00" stroke="#000" stroke-width="1.75"/>
<line x1="510.90" y1="1246.80" x2="510.90" y2="1253.00" stroke="#000" stroke-width="1.75"/>
<line x1="507.70" y1="1407.80" x2="507.70" y2="1414.00" stroke="#000" stroke-width="1.75"/>
<line x1="551.70" y1="1407.80" x2="551.70" y2="1414.00" stroke="#000" stroke-width="1.75"/>
<line x1="461.80" y1="1532.80" x2="468.00" y2="1532.80" stroke="#000" stroke-width="1.75"/>
<line x1="461.80" y1="1546.20" x2="468.00" y2="1546.20" stroke="#000" stroke-width="1.75"/>
<line x1="452.50" y1="1536.10" x2="452.50" y2="1542.30" stroke="#000" stroke-width="1.75"/>
<line x1="477.40" y1="1536.10" x2="477.40" y2="1542.30" stroke="#000" stroke-width="1.75"/>
<line x1="554.00" y1="1514.30" x2="554.00" y2="1520.50" stroke="#000" stroke-width="1.75"/>
<line x1="588.40" y1="1514.30" x2="588.40" y2="1520.50" stroke="#000" stroke-width="1.75"/>
<rect x="530.5" y="1242.8" width="130.70" height="64.80" fill="#fff" stroke="#434343" stroke-width="1.5"/>
<rect x="540.35" y="1247.35" width="14.90" height="14.90" fill="#ff0000" stroke="#000" stroke-width="1.7"/>
<path d="M547.80,1264.61 L558.39,1282.12 L537.21,1282.12 Z" fill="#0000ff" stroke="#000" stroke-width="1.7" stroke-linejoin="miter"/>
<circle cx="547.80" cy="1295.70" r="6.30" fill="#000"/>
<text x="565.10" y="1260.70" font-size="16.8" text-anchor="start" font-weight="normal" >sedimentary</text>
<text x="565.10" y="1280.80" font-size="16.8" text-anchor="start" font-weight="normal" >basement</text>
<text x="565.10" y="1301.60" font-size="16.8" text-anchor="start" font-weight="normal" >other</text>
</svg></body></html>
